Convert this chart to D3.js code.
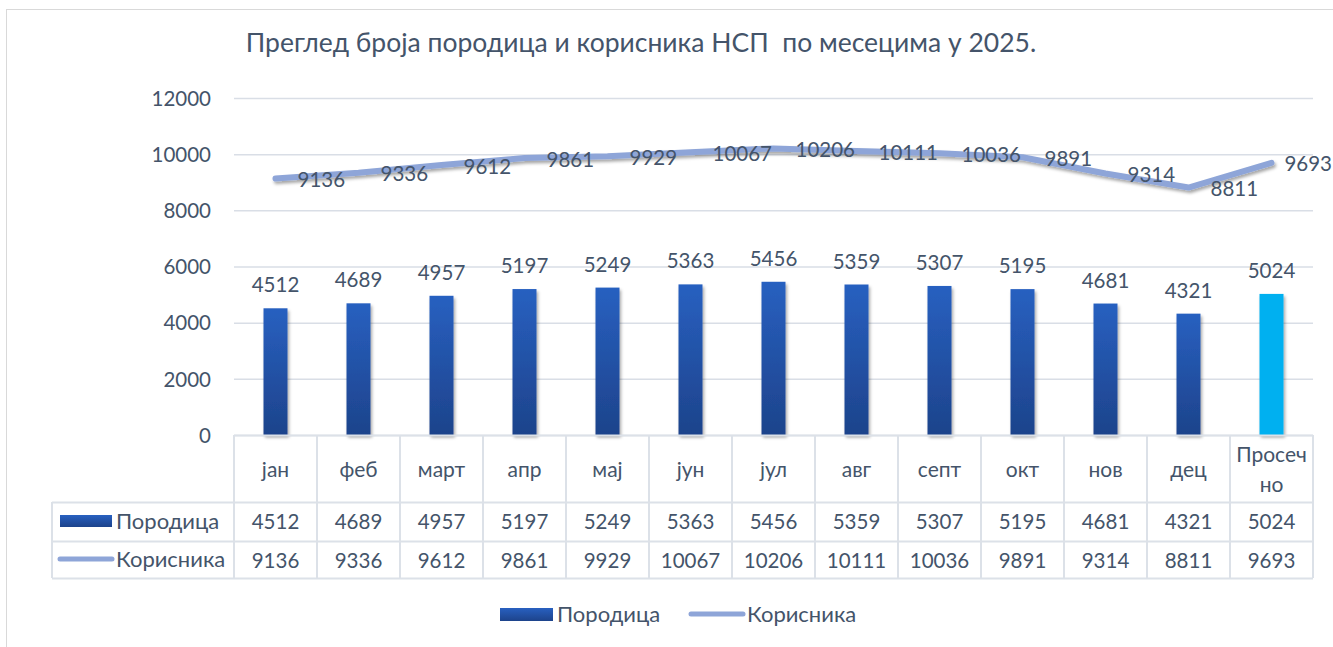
<!DOCTYPE html>
<html><head><meta charset="utf-8">
<script src="https://cdn.jsdelivr.net/npm/d3@7"></script>
<style>
body{margin:0;background:#fff;}
text{font-family:Lato,"Noto Sans",sans-serif;fill:#44546A;}
</style></head>
<body><svg id="c" width="1333" height="647"></svg>
<script>
const categories = ["јан","феб","март","апр","мај","јун","јул","авг","септ","окт","нов","дец","Просечно"];
const porodica = [4512,4689,4957,5197,5249,5363,5456,5359,5307,5195,4681,4321,5024];
const korisnika = [9136,9336,9612,9861,9929,10067,10206,10111,10036,9891,9314,8811,9693];
const yTicks = [0,2000,4000,6000,8000,10000,12000];
const title = "Преглед броја породица и корисника НСП  по месецима у 2025.";
const seriesNames = ["Породица","Корисника"];

(function(){
const W = 1333;
const svg = d3.select("#c");
const defs = svg.append("defs");
const g1 = defs.append("linearGradient").attr("id","barGrad").attr("x1",0).attr("y1",0).attr("x2",0).attr("y2",1);
g1.append("stop").attr("offset","0%").attr("stop-color","#2860C0");
g1.append("stop").attr("offset","100%").attr("stop-color","#1D438B");
const gl = defs.append("linearGradient").attr("id","legGrad").attr("x1",0).attr("y1",0).attr("x2",0).attr("y2",1);
gl.append("stop").attr("offset","0%").attr("stop-color","#2860C0");
gl.append("stop").attr("offset","100%").attr("stop-color","#1D438B");
const f = defs.append("filter").attr("id","shadow").attr("x","-20%").attr("y","-20%").attr("width","140%").attr("height","140%");
f.append("feDropShadow").attr("dx",1.5).attr("dy",2.5).attr("stdDeviation",1.8).attr("flood-color","#000").attr("flood-opacity",0.35);

svg.append("rect").attr("x",6.5).attr("y",9.5).attr("width",1340).attr("height",660).attr("fill","none").attr("stroke","#D9D9D9");

const pLeft=234, pRight=1313, pTop=98, pBottom=435;
const x = d3.scaleBand().domain(categories).range([pLeft,pRight]);
const y = d3.scaleLinear().domain([0,12000]).range([pBottom,pTop]);
const DIG = "20.5px", TXT = "22px";

svg.append("text").attr("x",641).attr("y",52).attr("text-anchor","middle")
  .style("font-size","26.5px").style("white-space","pre").attr("xml:space","preserve").text(title);

svg.append("g").selectAll("line").data(yTicks).join("line")
  .attr("x1",pLeft).attr("x2",pRight).attr("y1",d=>y(d)+0.5).attr("y2",d=>y(d)+0.5)
  .attr("stroke","#D9DEE6").attr("stroke-width",1.5);
const yAxis = d3.axisLeft(y).tickValues(yTicks).tickSize(0).tickPadding(0).tickFormat(d3.format("d"));
const ya = svg.append("g").attr("transform",`translate(211,0)`).call(yAxis);
ya.select(".domain").remove();
ya.selectAll("text").style("font-size",DIG).attr("fill","#44546A").attr("dy","0.35em").style("font-family","Lato,'Noto Sans',sans-serif");

const bw = 24;
svg.append("g").selectAll("rect").data(porodica).join("rect")
  .attr("x",(d,i)=>x(categories[i])+x.bandwidth()/2-bw/2)
  .attr("y",d=>y(d)).attr("width",bw).attr("height",d=>pBottom-y(d))
  .attr("fill",(d,i)=>i===categories.length-1?"#00B0F0":"url(#barGrad)")
  .attr("filter","url(#shadow)");
svg.append("g").selectAll("text").data(porodica).join("text")
  .attr("x",(d,i)=>x(categories[i])+x.bandwidth()/2)
  .attr("y",d=>y(d)-16).attr("text-anchor","middle").style("font-size",DIG).text(d=>d);

const line = d3.line().x((d,i)=>x(categories[i])+x.bandwidth()/2).y(d=>y(d));
svg.append("path").datum(korisnika).attr("d",line).attr("fill","none")
  .attr("stroke","#8EA5D8").attr("stroke-width",6).attr("stroke-linecap","round").attr("stroke-linejoin","round")
  .attr("filter","url(#shadow)");
svg.append("g").selectAll("text").data(korisnika).join("text")
  .attr("x",(d,i)=>x(categories[i])+x.bandwidth()/2+22)
  .attr("y",d=>y(d)+8.5).attr("text-anchor","start").style("font-size",DIG).text(d=>d)
  .each(function(){
    const w = this.getComputedTextLength();
    const cx = +this.getAttribute("x");
    if(cx + w > W - 1) this.setAttribute("x", W - 1 - w);
  });

const rowTops=[435,502,541,578];
const tg = svg.append("g");
const gridC="#DCE1E8";
tg.append("line").attr("x1",pLeft).attr("x2",pRight).attr("y1",rowTops[0]+0.5).attr("y2",rowTops[0]+0.5).attr("stroke",gridC).attr("stroke-width",2);
[1,2,3].forEach(k=>{
  tg.append("line").attr("x1",52).attr("x2",pRight).attr("y1",rowTops[k]+0.5).attr("y2",rowTops[k]+0.5).attr("stroke",gridC).attr("stroke-width",2);
});
const vx = categories.map(c=>x(c)).concat([pRight]);
tg.selectAll("line.v").data(vx).join("line").attr("class","v")
  .attr("x1",d=>d).attr("x2",d=>d).attr("y1",rowTops[0]).attr("y2",rowTops[3]).attr("stroke",gridC).attr("stroke-width",2);
tg.append("line").attr("x1",52).attr("x2",52).attr("y1",rowTops[1]).attr("y2",rowTops[3]).attr("stroke",gridC).attr("stroke-width",2);

categories.forEach((c,i)=>{
  const cx = x(c)+x.bandwidth()/2;
  if(c==="Просечно"){
    tg.append("text").attr("x",cx).attr("y",462).attr("text-anchor","middle").style("font-size","21px").text("Просеч");
    tg.append("text").attr("x",cx).attr("y",492).attr("text-anchor","middle").style("font-size","21px").text("но");
  } else {
    tg.append("text").attr("x",cx).attr("y",477).attr("text-anchor","middle").style("font-size","21px").text(c);
  }
});
[porodica,korisnika].forEach((arr,r)=>{
  tg.selectAll(null).data(arr).join("text")
    .attr("x",(d,i)=>x(categories[i])+x.bandwidth()/2)
    .attr("y",rowTops[r+1]+27).attr("text-anchor","middle").style("font-size",DIG).text(d=>d);
});
tg.append("rect").attr("x",60).attr("y",515).attr("width",52).attr("height",12).attr("fill","url(#legGrad)");
tg.append("text").attr("x",116).attr("y",529).style("font-size",TXT).text(seriesNames[0]);
tg.append("line").attr("x1",60).attr("x2",112).attr("y1",559).attr("y2",559).attr("stroke","#8EA5D8").attr("stroke-width",5).attr("stroke-linecap","round");
tg.append("text").attr("x",116).attr("y",567).style("font-size",TXT).text(seriesNames[1]);

const lg = svg.append("g");
lg.append("rect").attr("x",500).attr("y",608).attr("width",53).attr("height",13).attr("fill","url(#legGrad)");
lg.append("text").attr("x",557).attr("y",622).style("font-size",TXT).text(seriesNames[0]);
lg.append("line").attr("x1",691).attr("x2",743).attr("y1",614).attr("y2",614).attr("stroke","#8EA5D8").attr("stroke-width",5).attr("stroke-linecap","round");
lg.append("text").attr("x",747).attr("y",622).style("font-size",TXT).text(seriesNames[1]);
})();
</script></body></html>
